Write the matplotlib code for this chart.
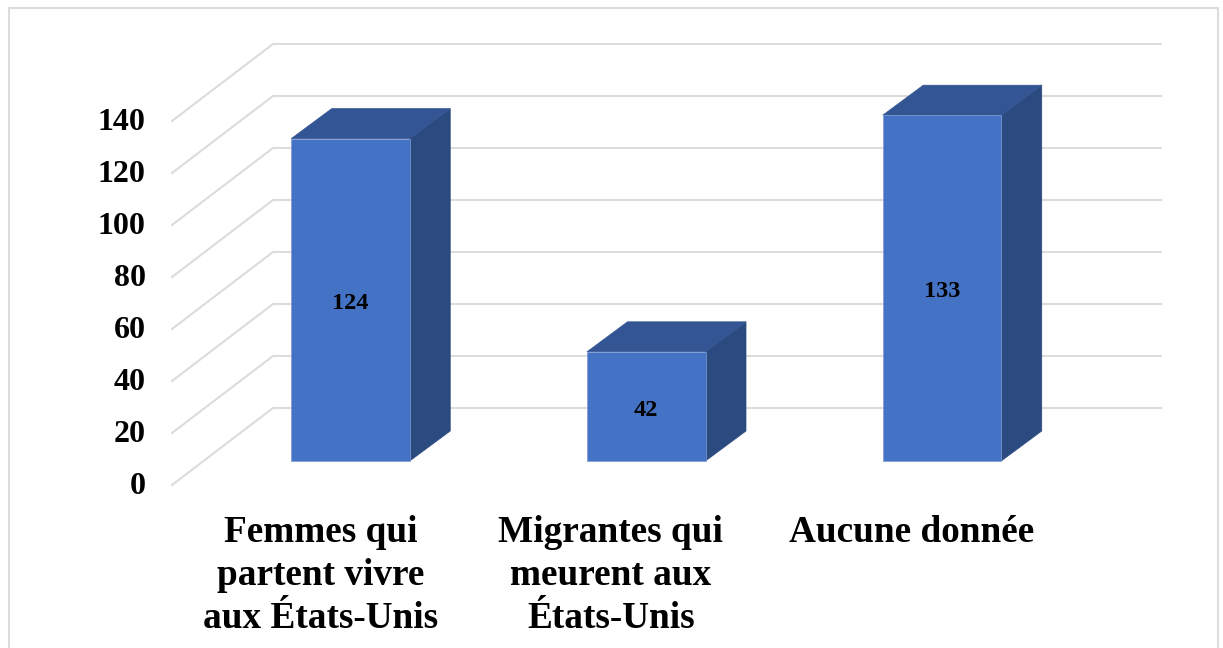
import matplotlib
matplotlib.use("Agg")
import matplotlib.pyplot as plt
from matplotlib.patches import Polygon, Rectangle
from matplotlib.transforms import ScaledTranslation

plt.rcParams['font.family'] = ['Liberation Serif', 'DejaVu Serif']
plt.rcParams['font.weight'] = 'bold'

# Chart data
categories = ["Femmes qui\npartent vivre\naux États-Unis",
              "Migrantes qui\nmeurent aux\nÉtats-Unis",
              "Aucune donnée"]
values = [124, 42, 133]
y_ticks = [0, 20, 40, 60, 80, 100, 120, 140]

# Pixel geometry of the pseudo 3D box
W, H = 1223, 648
left, right, bottom, top = 172, 1161, 485, 44
px_x = 295.75  # pixels per category
px_y = 2.6     # pixels per unit
x_first = 350.5

wall_dx, wall_dy = 101 / px_x, 77 / px_y
bar_lift = 24 / px_y
bar_w = 118.5 / px_x
bar_dx, bar_dy = 40.5 / px_x, 30 / px_y
label_shift = [-30, -35.5, -30.5]  # category labels sit left of their bars

front = "#4472c4"
top_col = "#335593"
side = "#2b4a7f"
edge = "#7f9bd6"
grid = "#dcdcdc"

fig = plt.figure(figsize=(W / 100, H / 100), dpi=100)
ax = fig.add_axes([left / W, 1 - bottom / H, (right - left) / W, (bottom - top) / H])

xmin = (left - x_first) / px_x
xmax = (right - x_first) / px_x
ax.set_xlim(xmin, xmax)
ax.set_ylim(0, (bottom - top) / px_y)

for s in ax.spines.values():
    s.set_visible(False)

# floor diagonals + back wall lines
for v in y_ticks:
    ax.plot([xmin, xmin + wall_dx, xmax], [v, v + wall_dy, v + wall_dy],
            color=grid, lw=1.5, zorder=1, clip_on=False, solid_joinstyle='miter')

for i, v in enumerate(values):
    x0 = i - bar_w / 2
    x1 = i + bar_w / 2
    y0 = bar_lift
    y1 = bar_lift + v
    ax.add_patch(Polygon([(x1, y0), (x1 + bar_dx, y0 + bar_dy), (x1 + bar_dx, y1 + bar_dy), (x1, y1)],
                         facecolor=side, edgecolor=side, lw=0.5, zorder=3, clip_on=False))
    ax.add_patch(Polygon([(x0, y1), (x1, y1), (x1 + bar_dx, y1 + bar_dy), (x0 + bar_dx, y1 + bar_dy)],
                         facecolor=top_col, edgecolor=top_col, lw=0.5, zorder=3, clip_on=False))
    ax.add_patch(Rectangle((x0, y0), bar_w, v, facecolor=front, edgecolor=edge, lw=0.5,
                           zorder=4, clip_on=False))
    ax.text(i, y0 + v / 2 - 1.4, str(v), ha='center', va='center', fontsize=17.5,
            fontweight='bold', color='black', zorder=5)

ax.set_yticks(y_ticks)
ax.set_yticklabels([str(v) for v in y_ticks], fontsize=23, fontweight='bold')
ax.tick_params(axis='y', length=0, pad=19)
up = ScaledTranslation(0, 1.5 / 100, fig.dpi_scale_trans)
for lab in ax.get_yticklabels():
    lab.set_transform(lab.get_transform() + up)

ax.set_xticks([i + label_shift[i] / px_x for i in range(len(categories))])
ax.set_xticklabels(categories, fontsize=26.8, fontweight='bold', linespacing=1.295)
ax.tick_params(axis='x', length=0, pad=21.5)

# chart frame, runs off the bottom of the picture
fig.add_artist(Rectangle((8.5 / W, -0.02), (1218 - 8.5) / W, 1.02 - 8 / H, transform=fig.transFigure,
                         facecolor='none', edgecolor=grid, lw=1.5))

fig.savefig("out.png", dpi=100)
